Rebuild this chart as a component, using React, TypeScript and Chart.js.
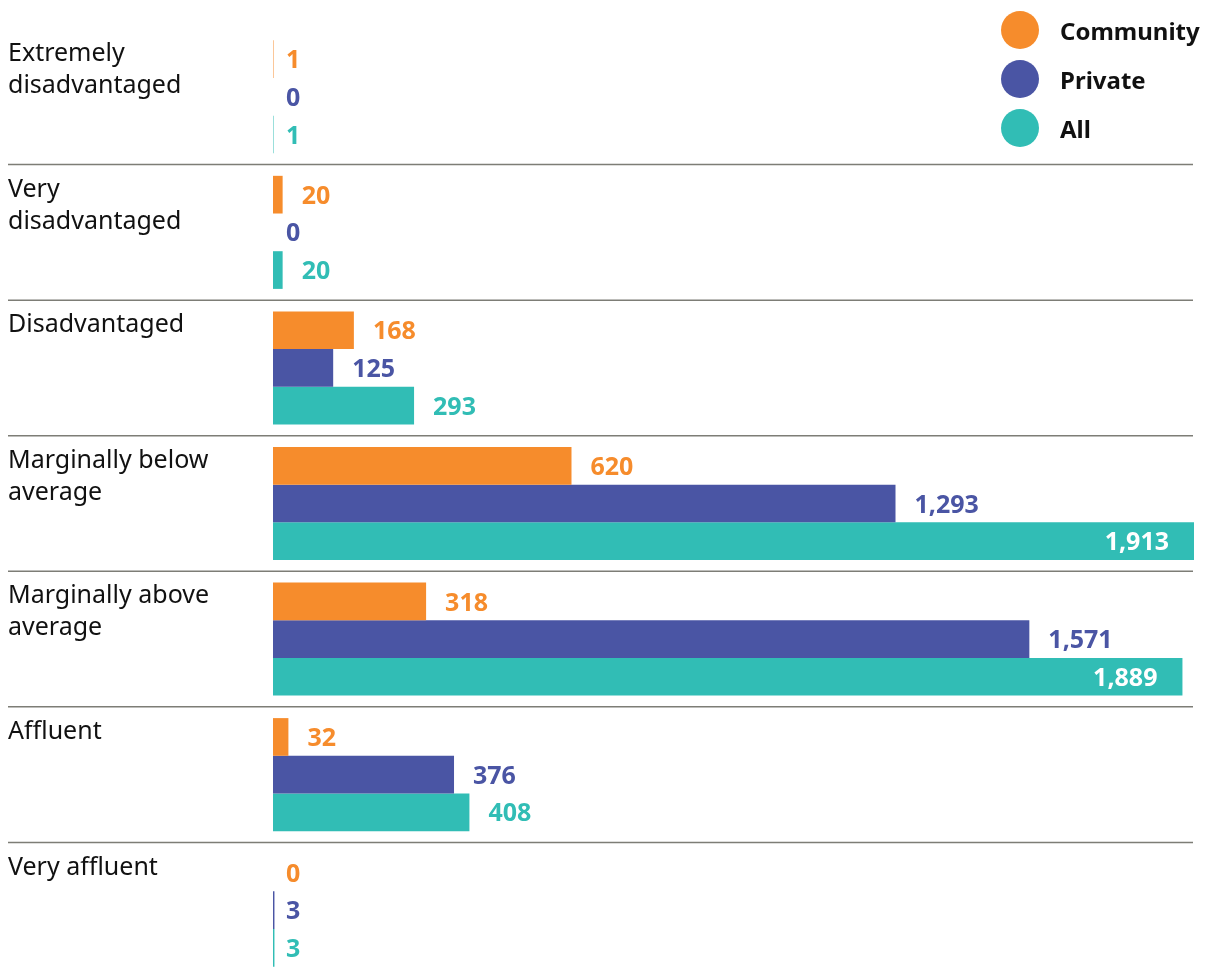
import React, { useEffect, useRef } from "react";
import Chart from "chart.js/auto";

const categoryLines: string[][] = [
  ["Extremely", "disadvantaged"],
  ["Very", "disadvantaged"],
  ["Disadvantaged"],
  ["Marginally below", "average"],
  ["Marginally above", "average"],
  ["Affluent"],
  ["Very affluent"],
];
const seriesNames = ["Community", "Private", "All"];
const community = [1, 20, 168, 620, 318, 32, 0];
const privateVals = [0, 0, 125, 1293, 1571, 376, 3];
const allVals = [1, 20, 293, 1913, 1889, 408, 3];
const colors = ["#F68C2C", "#4A55A4", "#31BDB5"];

const FONT = '"Noto Sans", "Open Sans", sans-serif';

const overlayPlugin = {
  id: "overlay",
  afterDatasetsDraw(chart: any) {
    const { ctx, chartArea } = chart;
    const yScale = chart.scales.y;
    const n = chart.data.labels.length;
    const band = (chartArea.bottom - chartArea.top) / n;
    ctx.save();
    // separators
    ctx.strokeStyle = "#7d7d76";
    ctx.lineWidth = 1.5;
    for (let i = 1; i < n; i++) {
      const y = yScale.getPixelForValue(i) - band / 2;
      ctx.beginPath();
      ctx.moveTo(8, y);
      ctx.lineTo(1193, y);
      ctx.stroke();
    }
    // category labels
    ctx.fillStyle = "#111";
    ctx.font = `25px ${FONT}`;
    ctx.textAlign = "left";
    ctx.textBaseline = "middle";
    for (let i = 0; i < n; i++) {
      const top = yScale.getPixelForValue(i) - band / 2;
      const lines = categoryLines[i];
      lines.forEach((ln, j) => {
        ctx.fillText(ln, 8, top + 25 + j * 32);
      });
    }
    // value labels
    ctx.font = `bold 25px ${FONT}`;
    chart.data.datasets.forEach((ds: any, di: number) => {
      const meta = chart.getDatasetMeta(di);
      meta.data.forEach((bar: any, i: number) => {
        const v = ds.data[i];
        const txt = v.toLocaleString("en-US");
        const w = ctx.measureText(txt).width;
        const end = bar.x;
        if (end + 19 + w > chart.width - 10) {
          ctx.fillStyle = "#ffffff";
          ctx.textAlign = "right";
          ctx.fillText(txt, end - 25, bar.y + 2);
        } else {
          ctx.fillStyle = ds.backgroundColor;
          ctx.textAlign = "left";
          const x = v < 10 ? chartArea.left + 13 : end + 19;
          ctx.fillText(txt, x, bar.y + 2);
        }
      });
    });
    // legend
    ctx.font = `bold 24px ${FONT}`;
    ctx.textAlign = "left";
    chart.data.datasets.forEach((ds: any, di: number) => {
      const cy = 30 + di * 49;
      ctx.fillStyle = ds.backgroundColor;
      ctx.beginPath();
      ctx.arc(1020, cy, 19, 0, Math.PI * 2);
      ctx.fill();
      ctx.fillStyle = "#111";
      ctx.fillText(ds.label, 1060, cy + 3);
    });
    ctx.restore();
  },
};

export default function App() {
  const ref = useRef<HTMLCanvasElement>(null);
  useEffect(() => {
    if (!ref.current) return;
    const chart = new Chart(ref.current, {
      type: "bar",
      data: {
        labels: categoryLines.map((l) => l.join(" ")),
        datasets: [
          { label: seriesNames[0], data: community, backgroundColor: colors[0] },
          { label: seriesNames[1], data: privateVals, backgroundColor: colors[1] },
          { label: seriesNames[2], data: allVals, backgroundColor: colors[2] },
        ],
      },
      options: {
        indexAxis: "y",
        responsive: false,
        animation: false,
        devicePixelRatio: 1,
        layout: { padding: { left: 273, right: 18, top: 29, bottom: 12 } },
        datasets: { bar: { categoryPercentage: 0.834, barPercentage: 1, borderWidth: 0 } },
        scales: {
          x: { display: false, min: 0, max: Math.max(...allVals) },
          y: { display: false },
        },
        plugins: { legend: { display: false }, tooltip: { enabled: false } },
      },
      plugins: [overlayPlugin],
    });
    return () => chart.destroy();
  }, []);
  return (
    <div style={{ position: "fixed", left: 0, top: 0, width: 1212, height: 968, overflow: "hidden", background: "#fff" }}>
      <canvas ref={ref} width={1212} height={990} style={{ display: "block" }} />
    </div>
  );
}
